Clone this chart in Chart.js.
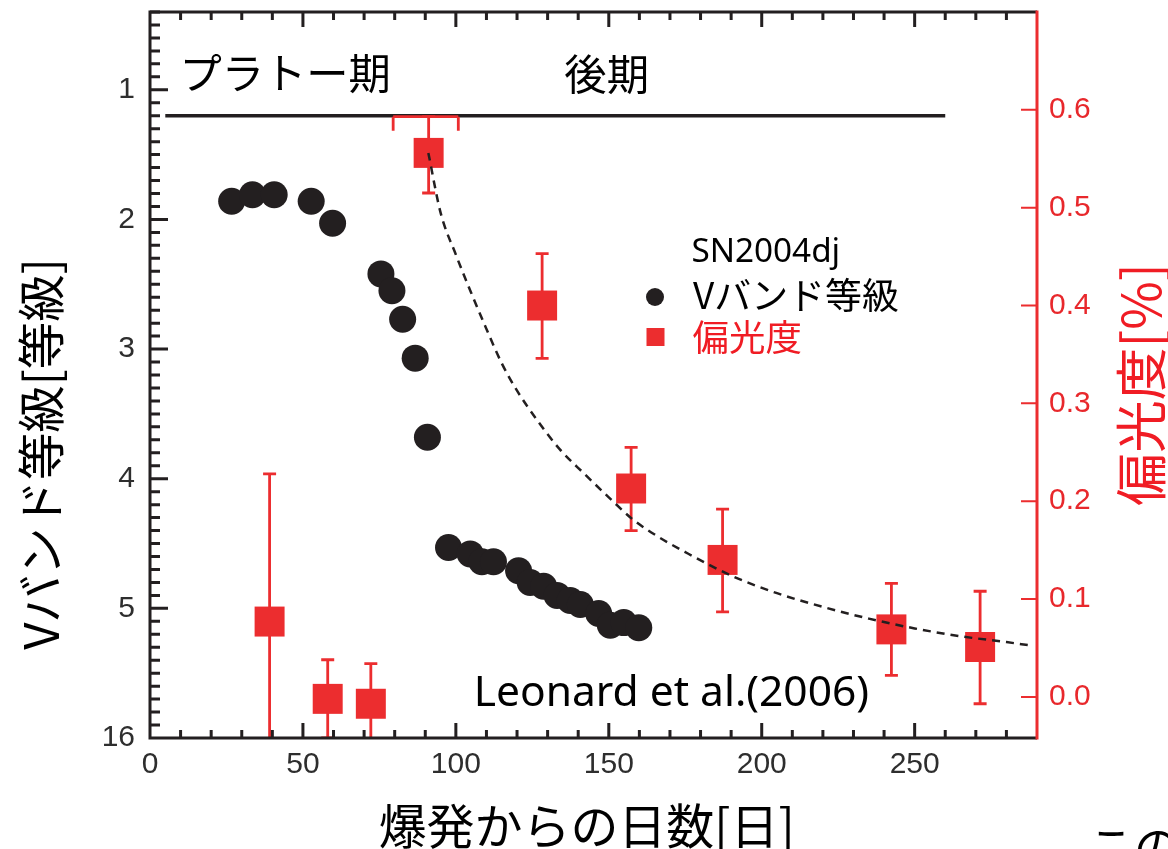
<!DOCTYPE html>
<html><head><meta charset="utf-8">
<script src="https://cdn.jsdelivr.net/npm/chart.js@4.4.1/dist/chart.umd.min.js"></script>
<style>html,body{margin:0;padding:0;background:#fff;}#wrap{width:1168px;height:849px;position:relative;overflow:hidden;background:#fff}</style>
</head><body><div id="wrap"><canvas id="c" width="1168" height="849"></canvas></div>
<script>
// ---- data ----
const vDays = [26.7, 33.5, 40.6, 52.7, 59.7, 75.5, 79.1, 82.6, 86.7, 90.7, 97.6, 104.7, 108.5, 112.3, 120.5, 124.3, 128.7, 133.1, 137.4, 140.7, 146.7, 150.5, 154.9, 159.8];
const vMag  = [1.86, 1.81, 1.81, 1.86, 2.03, 2.42, 2.55, 2.77, 3.07, 3.68, 4.53, 4.58, 4.64, 4.64, 4.71, 4.80, 4.83, 4.90, 4.94, 4.97, 5.04, 5.13, 5.11, 5.15];

const polDays  = [39.1, 58.1, 72.2, 91.1, 128.2, 157.3, 187.2, 242.4, 271.4];
const polValue = [0.077, -0.002, -0.007, 0.556, 0.400, 0.213, 0.140, 0.069, 0.051];
const polErrHigh = [0.228, 0.038, 0.034, 0.593, 0.453, 0.255, 0.192, 0.116, 0.108];
const polErrLow  = [-0.074, -0.042, -0.048, 0.515, 0.346, 0.170, 0.087, 0.022, -0.007];
const polDayErrLow  = [null, null, null, 79.5, null, null, null, null, null];
const polDayErrHigh = [null, null, null, 100.8, null, null, null, null, null];

const fitDays = [91, 95, 100, 105, 110, 115, 120, 127, 134, 142, 150, 158, 166, 175, 190, 205, 220, 235, 250, 265, 280, 287];
const fitPol  = [0.556, 0.495, 0.452, 0.413, 0.376, 0.341, 0.313, 0.281, 0.253, 0.228, 0.204, 0.181, 0.164, 0.148, 0.124, 0.106, 0.092, 0.080, 0.070, 0.062, 0.056, 0.053];

const phaseLineDays = [5, 260];
const phaseLineMag  = [1.2, 1.2];

const xTicks = [0, 50, 100, 150, 200, 250];
const xTickLabels = ['0', '50', '100', '150', '200', '250'];
const magTicks = [1, 2, 3, 4, 5, 6];
const magTickLabels = ['1', '2', '3', '4', '5', '16'];
const polTicks = [0, 0.1, 0.2, 0.3, 0.4, 0.5, 0.6];
const polTickLabels = ['0.0', '0.1', '0.2', '0.3', '0.4', '0.5', '0.6'];

const xTitle = '爆発からの日数[日]';
const magTitle = 'Vバンド等級[等級]';
const polTitle = '偏光度[%]';
const legendName = 'SN2004dj';
const legendV = 'Vバンド等級';
const legendPol = '偏光度';
const phase1 = 'プラトー期';
const phase2 = '後期';
const citation = 'Leonard et al.(2006)';
const cutText = 'この';

// ---- styles ----
const BLACK = '#231f20';
const RED = '#ec2d2f';
const RED_TEXT = '#f01c24';
const TICK_FONT = "'Liberation Sans', Arial, sans-serif";
const CJK = "'Noto Sans CJK JP', sans-serif";
const LATIN = "'Noto Sans', 'Open Sans', sans-serif";

function inkText(ctx, text, o) {
  ctx.save();
  ctx.font = `400 100px ${o.family}`;
  let m = ctx.measureText(text);
  const inkW = m.actualBoundingBoxLeft + m.actualBoundingBoxRight;
  const size = 100 * o.len / inkW;
  ctx.font = `400 ${size}px ${o.family}`;
  ctx.textAlign = 'left';
  ctx.textBaseline = 'alphabetic';
  m = ctx.measureText(text);
  ctx.fillStyle = o.color;
  const w = m.actualBoundingBoxLeft + m.actualBoundingBoxRight;
  const dx = -w / 2 + m.actualBoundingBoxLeft;
  const dy = (m.actualBoundingBoxAscent - m.actualBoundingBoxDescent) / 2;
  ctx.translate(o.cx, o.cy);
  if (o.rot) ctx.rotate(o.rot);
  ctx.fillText(text, dx, dy);
  ctx.restore();
}

const overlay = {
  id: 'overlay',
  afterDatasetDraw(chart, args) {
    if (args.index !== 0) return;
    const ctx = chart.ctx, ca = chart.chartArea;
    const xs = chart.scales.x, yp = chart.scales.yPol;
    ctx.save();
    ctx.beginPath(); ctx.rect(ca.left, ca.top, ca.right - ca.left, ca.bottom - ca.top); ctx.clip();
    ctx.strokeStyle = RED; ctx.lineWidth = 2.8; ctx.lineCap = 'butt';
    const cap = 6.5;
    for (let i = 0; i < polDays.length; i++) {
      const px = xs.getPixelForValue(polDays[i]);
      const pt = yp.getPixelForValue(polErrHigh[i]);
      const pb = yp.getPixelForValue(polErrLow[i]);
      ctx.beginPath();
      ctx.moveTo(px, pt); ctx.lineTo(px, pb);
      ctx.moveTo(px - cap, pt); ctx.lineTo(px + cap, pt);
      ctx.moveTo(px - cap, pb); ctx.lineTo(px + cap, pb);
      ctx.stroke();
      if (polDayErrLow[i] !== null) {
        const xl = xs.getPixelForValue(polDayErrLow[i]);
        const xr = xs.getPixelForValue(polDayErrHigh[i]);
        ctx.beginPath();
        ctx.moveTo(xl, pt); ctx.lineTo(xr, pt);
        ctx.moveTo(xl, pt); ctx.lineTo(xl, pt + 14);
        ctx.moveTo(xr, pt); ctx.lineTo(xr, pt + 14);
        ctx.stroke();
      }
    }
    ctx.restore();
  },
  afterDraw(chart) {
    const ctx = chart.ctx, ca = chart.chartArea;
    const xs = chart.scales.x, ym = chart.scales.yMag, yp = chart.scales.yPol;
    ctx.save();
    ctx.lineCap = 'butt';
    ctx.strokeStyle = BLACK; ctx.lineWidth = 3;
    ctx.beginPath();
    ctx.moveTo(ca.right, ca.top); ctx.lineTo(ca.left, ca.top); ctx.lineTo(ca.left, ca.bottom); ctx.lineTo(ca.right, ca.bottom);
    ctx.stroke();
    ctx.lineWidth = 3;
    ctx.beginPath();
    for (let i = 1; i < 29; i++) {
      const px = xs.getPixelForValue(i * 10);
      const len = (i % 5 === 0) ? 15 : 8;
      ctx.moveTo(px, ca.bottom); ctx.lineTo(px, ca.bottom - len);
      ctx.moveTo(px, ca.top); ctx.lineTo(px, ca.top + len);
    }
    for (let i = 4; i < 60; i++) {
      const py = ym.getPixelForValue(i / 10);
      const len = (i % 10 === 0) ? 18 : 10;
      ctx.moveTo(ca.left, py); ctx.lineTo(ca.left + len, py);
    }
    ctx.stroke();
    ctx.strokeStyle = RED; ctx.lineWidth = 3;
    ctx.beginPath(); ctx.moveTo(ca.right, ca.top - 1.5); ctx.lineTo(ca.right, ca.bottom + 1.5); ctx.stroke();
    ctx.lineWidth = 2;
    ctx.beginPath();
    for (const v of polTicks) {
      const py = yp.getPixelForValue(v);
      ctx.moveTo(ca.right, py); ctx.lineTo(ca.right - 16, py);
    }
    ctx.stroke();

    ctx.fillStyle = BLACK;
    ctx.beginPath(); ctx.arc(655, 297, 9, 0, Math.PI * 2); ctx.fill();
    ctx.fillStyle = RED;
    ctx.fillRect(646.5, 328, 18, 18);
    ctx.restore();

    inkText(ctx, legendName, {family: LATIN, len: 145, cx: 765.5, cy: 253, color: '#000'});
    inkText(ctx, legendV, {family: CJK, len: 205, cx: 795.5, cy: 295, color: '#000'});
    inkText(ctx, legendPol, {family: CJK, len: 108, cx: 747, cy: 337, color: RED_TEXT});
    inkText(ctx, phase1, {family: CJK, len: 203, cx: 286.5, cy: 74, color: '#000'});
    inkText(ctx, phase2, {family: CJK, len: 81, cx: 605.5, cy: 74, color: '#000'});
    inkText(ctx, citation, {family: LATIN, len: 390, cx: 673, cy: 693, color: '#000'});
    inkText(ctx, xTitle, {family: CJK, len: 410, cx: 585, cy: 827, color: '#000'});
    inkText(ctx, magTitle, {family: CJK, len: 387, cx: 42, cy: 456, color: '#000', rot: -Math.PI / 2});
    inkText(ctx, polTitle, {family: CJK, len: 237, cx: 1143, cy: 387, color: RED_TEXT, rot: -Math.PI / 2});
    ctx.save();
    ctx.font = `400 46px ${CJK}`;
    ctx.fillStyle = '#000';
    ctx.textBaseline = 'top';
    ctx.fillText(cutText, 1088, 824);
    ctx.restore();
  }
};

const toPts = (xsArr, ysArr) => xsArr.map((x, i) => ({x, y: ysArr[i]}));
const noPadV = s => { s.paddingTop = 0; s.paddingBottom = 0; };
const noPadH = s => { s.paddingLeft = 0; s.paddingRight = 0; };

new Chart(document.getElementById('c'), {
  type: 'scatter',
  data: {
    datasets: [
      { type: 'line', data: toPts(phaseLineDays, phaseLineMag), yAxisID: 'yMag', borderColor: BLACK, borderWidth: 3.5, pointRadius: 0, order: 4 },
      { type: 'scatter', data: toPts(vDays, vMag), yAxisID: 'yMag', backgroundColor: BLACK, borderWidth: 0, pointRadius: 13.5, order: 3 },
      { type: 'scatter', data: toPts(polDays, polValue), yAxisID: 'yPol', backgroundColor: RED, borderWidth: 0, pointStyle: 'rect', pointRadius: 21.2, order: 2 },
      { type: 'line', data: toPts(fitDays, fitPol), yAxisID: 'yPol', borderColor: BLACK, borderWidth: 2.5, borderDash: [8, 6], pointRadius: 0, cubicInterpolationMode: 'monotone', order: 1 }
    ]
  },
  options: {
    responsive: false,
    devicePixelRatio: 1,
    animation: false,
    layout: { autoPadding: false, padding: { top: 12, left: 0, right: 0, bottom: 0 } },
    plugins: { legend: { display: false }, tooltip: { enabled: false } },
    scales: {
      x: {
        type: 'linear', position: 'bottom', min: 0, max: 290,
        grid: { display: false, drawTicks: false }, border: { display: false },
        afterBuildTicks: s => { s.ticks = xTicks.map(v => ({value: v})); },
        afterFit: s => { s.height = 111; noPadH(s); },
        ticks: { padding: 9, color: '#2e2e2e', font: { family: TICK_FONT, size: 30 }, maxRotation: 0,
                 callback: v => xTickLabels[xTicks.indexOf(v)] }
      },
      yMag: {
        type: 'linear', position: 'left', reverse: true, min: 0.4, max: 6.0,
        grid: { display: false, drawTicks: false }, border: { display: false },
        afterBuildTicks: s => { s.ticks = magTicks.map(v => ({value: v})); },
        afterFit: s => { s.width = 150; noPadV(s); },
        ticks: { padding: 15, color: '#2e2e2e', font: { family: TICK_FONT, size: 30 },
                 callback: v => magTickLabels[magTicks.indexOf(v)] }
      },
      yPol: {
        type: 'linear', position: 'right', min: -0.042, max: 0.70,
        grid: { display: false, drawTicks: false }, border: { display: false },
        afterBuildTicks: s => { s.ticks = polTicks.map(v => ({value: v})); },
        afterFit: s => { s.width = 131; noPadV(s); },
        ticks: { padding: 12, color: '#e8282c', font: { family: TICK_FONT, size: 30 },
                 callback: v => polTickLabels[polTicks.indexOf(v)] }
      }
    }
  },
  plugins: [overlay]
});
</script></body></html>
